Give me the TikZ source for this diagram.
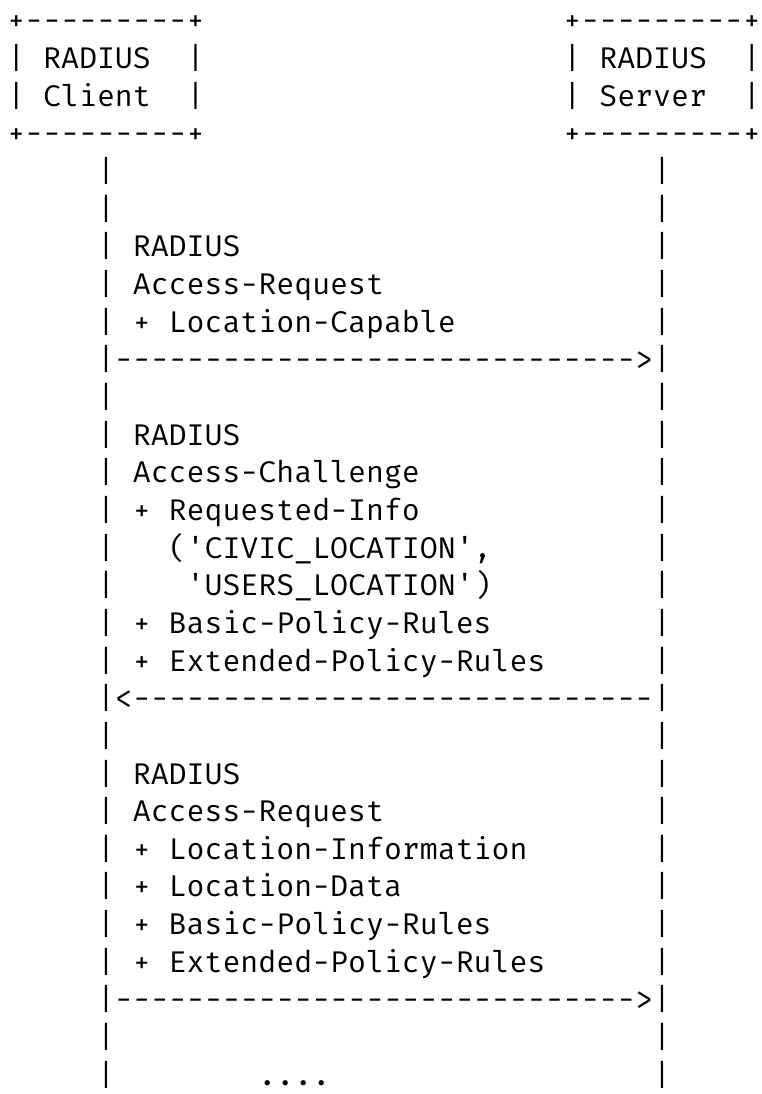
\documentclass[tikz,border=0pt]{standalone}
\usepackage{fontspec}
\setmonofont{Fira Mono}
\ExplSyntaxOn
\NewDocumentCommand\blanks{m}{\prg_replicate:nn{#1}{\nobreakspace}}
\NewDocumentCommand\dashes{m}{\prg_replicate:nn{#1}{-}}
\ExplSyntaxOff
\newcommand\lane[2]{\blanks{5}|\nobreakspace#1\blanks{#2}|}
\newcommand\emptylane{\blanks{5}|\blanks{30}|}
\tikzset{
  ascii/.style={anchor=base west, inner sep=0pt, outer sep=0pt, text=black,
    font=\ttfamily\fontsize{29.9}{37.6}\selectfont}
}
\begin{document}
\begin{tikzpicture}[x=1pt,y=1pt]
\fill[white] (0,0) rectangle (761,-1094);
\useasboundingbox (0,0) rectangle (761,-1094);
\def\lm{7.3}
\def\ry#1{{-31-37.65*#1}}
\node[ascii] (l0)  at (\lm,\ry{0})  {+\dashes{9}+\blanks{20}+\dashes{9}+};
\node[ascii] (l1)  at (\lm,\ry{1})  {|\nobreakspace RADIUS\blanks{2}|\blanks{20}|\nobreakspace RADIUS\blanks{2}|};
\node[ascii] (l2)  at (\lm,\ry{2})  {|\nobreakspace Client\blanks{2}|\blanks{20}|\nobreakspace Server\blanks{2}|};
\node[ascii] (l3)  at (\lm,\ry{3})  {+\dashes{9}+\blanks{20}+\dashes{9}+};
\node[ascii] (l4)  at (\lm,\ry{4})  {\emptylane};
\node[ascii] (l5)  at (\lm,\ry{5})  {\emptylane};
\node[ascii] (l6)  at (\lm,\ry{6})  {\lane{RADIUS}{23}};
\node[ascii] (l7)  at (\lm,\ry{7})  {\lane{Access-Request}{15}};
\node[ascii] (l8)  at (\lm,\ry{8})  {\lane{+\nobreakspace Location-Capable}{11}};
\node[ascii] (l9)  at (\lm,\ry{9})  {\blanks{5}|\dashes{29}>|};
\node[ascii] (l10) at (\lm,\ry{10}) {\emptylane};
\node[ascii] (l11) at (\lm,\ry{11}) {\lane{RADIUS}{23}};
\node[ascii] (l12) at (\lm,\ry{12}) {\lane{Access-Challenge}{13}};
\node[ascii] (l13) at (\lm,\ry{13}) {\lane{+\nobreakspace Requested-Info}{13}};
\node[ascii] (l14) at (\lm,\ry{14}) {\lane{\blanks{2}('CIVIC\_LOCATION',}{9}};
\node[ascii] (l15) at (\lm,\ry{15}) {\lane{\blanks{3}'USERS\_LOCATION')}{9}};
\node[ascii] (l16) at (\lm,\ry{16}) {\lane{+\nobreakspace Basic-Policy-Rules}{9}};
\node[ascii] (l17) at (\lm,\ry{17}) {\lane{+\nobreakspace Extended-Policy-Rules}{6}};
\node[ascii] (l18) at (\lm,\ry{18}) {\blanks{5}|<\dashes{29}|};
\node[ascii] (l19) at (\lm,\ry{19}) {\emptylane};
\node[ascii] (l20) at (\lm,\ry{20}) {\lane{RADIUS}{23}};
\node[ascii] (l21) at (\lm,\ry{21}) {\lane{Access-Request}{15}};
\node[ascii] (l22) at (\lm,\ry{22}) {\lane{+\nobreakspace Location-Information}{7}};
\node[ascii] (l23) at (\lm,\ry{23}) {\lane{+\nobreakspace Location-Data}{14}};
\node[ascii] (l24) at (\lm,\ry{24}) {\lane{+\nobreakspace Basic-Policy-Rules}{9}};
\node[ascii] (l25) at (\lm,\ry{25}) {\lane{+\nobreakspace Extended-Policy-Rules}{6}};
\node[ascii] (l26) at (\lm,\ry{26}) {\blanks{5}|\dashes{29}>|};
\node[ascii] (l27) at (\lm,\ry{27}) {\emptylane};
\node[ascii] (l28) at (\lm,\ry{28}) {\blanks{5}|\blanks{8}....\blanks{18}|};
\end{tikzpicture}
\end{document}
